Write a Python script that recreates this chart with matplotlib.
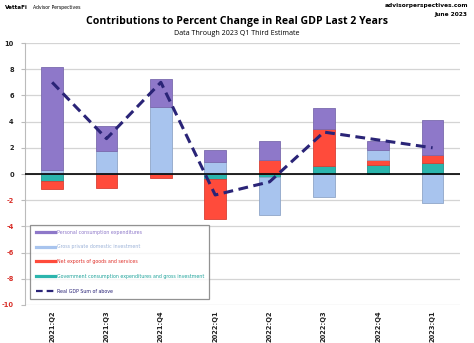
import matplotlib
matplotlib.use("Agg")
import matplotlib.pyplot as plt
import numpy as np
from matplotlib.lines import Line2D

quarters = ["2021:Q2", "2021:Q3", "2021:Q4", "2022:Q1", "2022:Q2", "2022:Q3", "2022:Q4", "2023:Q1"]
pce = [7.87, 1.95, 2.15, 0.95, 1.40, 1.62, 0.70, 2.73]
gpdi = [0.28, 1.75, 5.10, 0.92, -2.90, -1.77, 0.75, -2.23]
net_exports = [-0.65, -1.10, -0.28, -3.07, 1.10, 2.81, 0.41, 0.59]
government = [-0.50, 0.00, -0.02, -0.38, -0.23, 0.64, 0.66, 0.84]
real_gdp = [7.0, 2.7, 7.0, -1.6, -0.6, 3.2, 2.6, 2.0]
yticks = [-10, -8, -6, -4, -2, 0, 2, 4, 6, 8, 10]

names = ["Personal consumption expenditures", "Gross private domestic investment",
         "Net exports of goods and services", "Government consumption expenditures and gross investment"]
colors = ["#8E78C9", "#A8C4EE", "#FF4B3B", "#2BB5AD"]
edges = ["#7A6AAE", "#8FA6C8", "#D84034", "#22948D"]
text_colors = ["#8E78C9", "#9DB3D8", "#E0302A", "#1FA39B"]
line_color = "#2A2477"

fig = plt.figure(figsize=(4.74, 3.43), dpi=100)
ax = fig.add_axes([0.0527, 0.1108, 0.9173, 0.7638])

x = np.arange(len(quarters))
# stacking order: government, net exports, gpdi, pce
series = [(government, 3), (net_exports, 2), (gpdi, 1), (pce, 0)]
pos_base = np.zeros(len(x))
neg_base = np.zeros(len(x))
for vals, idx in series:
    v = np.array(vals)
    bottoms = np.where(v >= 0, pos_base, neg_base)
    ax.bar(x, v, bottom=bottoms, width=0.4, color=colors[idx],
           edgecolor=edges[idx], linewidth=0.6, zorder=3)
    pos_base = pos_base + np.where(v >= 0, v, 0)
    neg_base = neg_base + np.where(v < 0, v, 0)

ax.plot(x, real_gdp, color=line_color, linewidth=2.2, dashes=(3.2, 1.8), zorder=5)

ax.set_xlim(-0.5, len(x) - 0.5)
ax.set_ylim(-10, 10)
ax.set_yticks(yticks)
ax.yaxis.grid(True, color="#D4D4D4", linewidth=0.9, zorder=0)
ax.axhline(0, color="black", linewidth=1.2, zorder=4)
for s in ["top", "right", "bottom"]:
    ax.spines[s].set_visible(False)
ax.spines["left"].set_color("#BBBBBB")
ax.tick_params(axis="y", length=3, color="#BBBBBB", labelsize=4.8, pad=5)
ax.tick_params(axis="x", length=0, labelsize=4.8, pad=4)
ax.set_xticks(x)
ax.set_xticklabels(quarters, rotation=90, fontweight="bold", color="#222222")
ax.set_yticklabels([str(t) for t in yticks], fontweight="bold")
for lbl, t in zip(ax.get_yticklabels(), yticks):
    lbl.set_color("#D9302A" if t < 0 else "#222222")

leg_handles = [Line2D([0], [0], color=colors[i], linewidth=2.3) for i in range(4)]
leg_handles.append(Line2D([0], [0], color=line_color, linewidth=1.6, dashes=(3, 1.8)))
leg = ax.legend(leg_handles, names + ["Real GDP Sum of above"], loc="lower left",
                bbox_to_anchor=(0.007, 0.015), fontsize=3.4, frameon=True, fancybox=False,
                edgecolor="#777777", handlelength=4.2, labelspacing=2.05,
                borderpad=1.1, handletextpad=0.3)
leg.get_frame().set_linewidth(0.9)
for t, c in zip(leg.get_texts(), text_colors + ["#2A2477"]):
    t.set_color(c)

fig.text(0.5, 0.936, "Contributions to Percent Change in Real GDP Last 2 Years",
         ha="center", va="center", fontsize=7.6, fontweight="bold", family="Open Sans")
fig.text(0.5, 0.901, "Data Through 2023 Q1 Third Estimate", ha="center", va="center",
         fontsize=5.1, family="Open Sans")
fig.text(0.011, 0.977, "VettaFi", ha="left", va="center", fontsize=4.1, fontweight="bold")
fig.text(0.07, 0.977, "Advisor Perspectives", ha="left", va="center", fontsize=3.3)
fig.text(0.987, 0.983, "advisorperspectives.com", ha="right", va="center", fontsize=4.2, fontweight="bold")
fig.text(0.987, 0.957, "June 2023", ha="right", va="center", fontsize=4.2, fontweight="bold")

fig.savefig("out.png", dpi=100)
